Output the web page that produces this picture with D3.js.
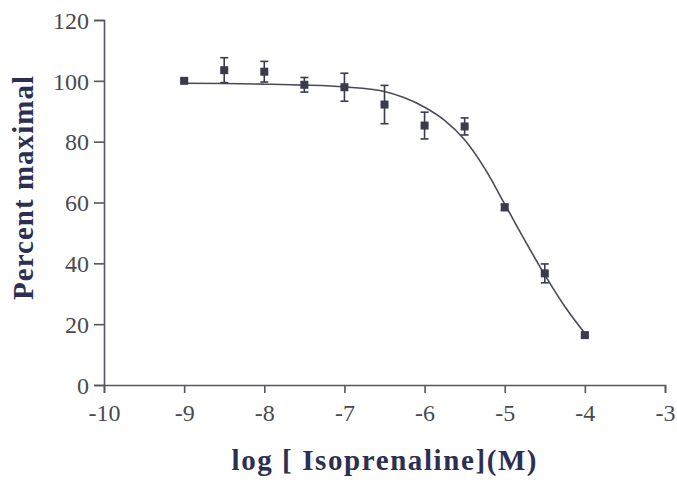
<!DOCTYPE html>
<html>
<head>
<meta charset="utf-8">
<script src="https://cdn.jsdelivr.net/npm/d3@7/dist/d3.min.js"></script>
<style>
html,body{margin:0;padding:0;background:#fff;}
svg{display:block;}
</style>
</head>
<body>
<script>
// ---- data ----
const logConc = [-9, -8.5, -8, -7.5, -7, -6.5, -6, -5.5, -5, -4.5, -4];
const percentMax = [100, 103.5, 103, 98.7, 97.9, 92.2, 85.3, 85.0, 58.4, 36.7, 16.4];
const sem = [0.5, 4.1, 3.4, 2.4, 4.6, 6.3, 4.4, 2.8, 1.0, 3.1, 0.5];
// fitted curve
const curveX = [-9, -8.5, -8, -7.5, -7, -6.5, -6.25, -6, -5.75, -5.5, -5.25, -5, -4.75, -4.5, -4.25, -4];
const curveY = [99.2, 99.1, 98.9, 98.6, 98.0, 96.5, 94.4, 91.3, 87.0, 80.6, 71.2, 59.5, 47.6, 36.2, 25.8, 17.0];
const xTicks = [-10, -9, -8, -7, -6, -5, -4, -3];
const yTicks = [0, 20, 40, 60, 80, 100, 120];
const xTitle = "log [ Isoprenaline](M)";
const yTitle = "Percent maximal";

const W = 677, H = 487;
const svg = d3.select("body").append("svg").attr("width", W).attr("height", H);

const x = d3.scaleLinear().domain([-10, -3]).range([104, 665]);
const y = d3.scaleLinear().domain([0, 120]).range([385, 20]);

const axisColor = "#55565f";
const tickTextColor = "#4a4a4e";
const titleColor = "#2c2f52";
const markColor = "#3a3b4c";
const serif = "'Liberation Serif','Times New Roman',Times,serif";

// x axis
const gx = svg.append("g").attr("transform", `translate(0,${y(0)})`)
  .call(d3.axisBottom(x).tickValues(xTicks).tickSize(8).tickPadding(10).tickFormat(d => String(d)));
// y axis
const gy = svg.append("g").attr("transform", `translate(${x(-10)},0)`)
  .call(d3.axisLeft(y).tickValues(yTicks).tickSize(10).tickPadding(5).tickFormat(d => String(d)));

[gx, gy].forEach(g => {
  g.attr("font-family", null);
  g.select(".domain").attr("stroke", axisColor).attr("stroke-width", 1.6);
  g.selectAll(".tick line").attr("stroke", axisColor).attr("stroke-width", 1.6);
  g.selectAll(".tick text").attr("fill", tickTextColor)
    .style("font-family", serif).style("font-size", "24px");
});
gx.selectAll(".tick text").attr("dy", "0.75em");
gy.selectAll(".tick text").attr("dy", "0.34em");

// fitted curve
const line = d3.line().x((d, i) => x(curveX[i])).y(d => y(d)).curve(d3.curveMonotoneX);
svg.append("path").datum(curveY).attr("d", line)
  .attr("fill", "none").attr("stroke", "#4a4b57").attr("stroke-width", 1.6);

// error bars
const pts = logConc.map((c, i) => ({c, v: percentMax[i], e: sem[i]}));
const eb = svg.append("g").attr("stroke", markColor).attr("stroke-width", 1.6);
pts.forEach(p => {
  const cx = x(p.c);
  eb.append("line").attr("x1", cx).attr("x2", cx).attr("y1", y(p.v + p.e)).attr("y2", y(p.v - p.e));
  eb.append("line").attr("x1", cx - 4).attr("x2", cx + 4).attr("y1", y(p.v + p.e)).attr("y2", y(p.v + p.e));
  eb.append("line").attr("x1", cx - 4).attr("x2", cx + 4).attr("y1", y(p.v - p.e)).attr("y2", y(p.v - p.e));
});
// markers
svg.append("g").selectAll("rect").data(pts).join("rect")
  .attr("x", d => x(d.c) - 4).attr("y", d => y(d.v) - 4)
  .attr("width", 8).attr("height", 8).attr("fill", markColor);

// titles
svg.append("text").attr("x", 384).attr("y", 470).attr("text-anchor", "middle")
  .attr("fill", titleColor).style("font-family", serif).style("font-weight", "bold").style("font-size", "29px")
  .attr("textLength", 305).attr("lengthAdjust", "spacing")
  .text(xTitle);
svg.append("text").attr("transform", "translate(33,188) rotate(-90)").attr("text-anchor", "middle")
  .attr("fill", titleColor).style("font-family", serif).style("font-weight", "bold").style("font-size", "29px")
  .attr("textLength", 224).attr("lengthAdjust", "spacing")
  .text(yTitle);
</script>
</body>
</html>
